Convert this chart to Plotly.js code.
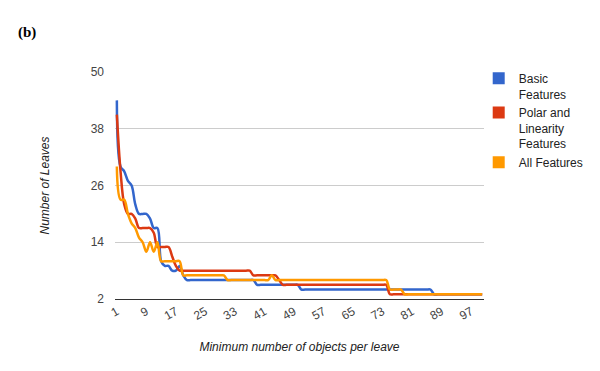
<!DOCTYPE html>
<html>
<head>
<meta charset="utf-8">
<script src="https://cdn.plot.ly/plotly-3.0.1.min.js"></script>
<style>html,body{margin:0;padding:0;background:#fff;}#chart{width:600px;height:371px;}</style>
</head>
<body>
<div id="chart"></div>
<script>
// Minimum number of objects per leave (x categories 1..100)
const minObjects = [
  1,2,3,4,5,6,7,8,9,10,11,12,13,14,15,16,17,18,19,20,
  21,22,23,24,25,26,27,28,29,30,31,32,33,34,35,36,37,38,39,40,
  41,42,43,44,45,46,47,48,49,50,51,52,53,54,55,56,57,58,59,60,
  61,62,63,64,65,66,67,68,69,70,71,72,73,74,75,76,77,78,79,80,
  81,82,83,84,85,86,87,88,89,90,91,92,93,94,95,96,97,98,99,100
];
const basicFeatures = [
  44,30,29,27,26,22,20,20,20,19,17,17,10,9,9,8,8,9,7,6,
  6,6,6,6,6,6,6,6,6,6,6,6,6,6,6,6,6,6,5,5,
  5,5,5,5,5,5,5,5,5,5,4,4,4,4,4,4,4,4,4,4,
  4,4,4,4,4,4,4,4,4,4,4,4,4,4,4,4,4,4,4,4,
  4,4,4,4,4,4,3,3,3,3,3,3,3,3,3,3,3,3,3,3
];
const polarLinearity = [
  41,29,22,20,20,19,17,17,17,17,16,13,13,13,13,11,9,8,8,8,
  8,8,8,8,8,8,8,8,8,8,8,8,8,8,8,8,8,7,7,7,
  7,7,7,7,6,5,5,5,5,5,5,5,5,5,5,5,5,5,5,5,
  5,5,5,5,5,5,5,5,5,5,5,5,5,5,3,3,3,3,3,3,
  3,3,3,3,3,3,3,3,3,3,3,3,3,3,3,3,3,3,3,3
];
const allFeatures = [
  30,23,23,20,18,17,15,14,12,14,12,14,10,10,10,10,10,10,7,7,
  7,7,7,7,7,7,7,7,7,7,6,6,6,6,6,6,6,6,6,6,
  6,6,7,6,6,6,6,6,6,6,6,6,6,6,6,6,6,6,6,6,
  6,6,6,6,6,6,6,6,6,6,6,6,6,6,4,4,4,4,3,3,
  3,3,3,3,3,3,3,3,3,3,3,3,3,3,3,3,3,3,3,3
];
const xTickVals = [1,9,17,25,33,41,49,57,65,73,81,89,97];
const xTickText = ['1','9','17','25','33','41','49','57','65','73','81','89','97'];
const yTickVals = [2,14,26,38,50];
const seriesNames = ['Basic<br>Features','Polar and<br>Linearity<br>Features','All Features'];
const seriesColors = ['#3366cc','#dc3912','#ff9900'];

const seriesData = [basicFeatures, polarLinearity, allFeatures];
const traces = [];
seriesData.forEach((ys, i) => {
  traces.push({
    x: minObjects, y: ys, type: 'scatter', mode: 'lines',
    line: {color: seriesColors[i], width: 2.5, shape: 'spline', smoothing: 1},
    showlegend: false, hoverinfo: 'x+y'
  });
});
seriesData.forEach((ys, i) => {
  traces.push({
    x: [null], y: [null], type: 'scatter', mode: 'markers',
    name: seriesNames[i],
    marker: {symbol: 'square', size: 12, color: seriesColors[i]}
  });
});

const layout = {
  width: 600, height: 371,
  margin: {l: 115, r: 115, t: 72, b: 72},
  paper_bgcolor: '#fff', plot_bgcolor: '#fff',
  font: {family: 'Liberation Sans, Arial, sans-serif', size: 12, color: '#444'},
  showlegend: true,
  legend: {
    x: 0.983, y: 1.035, xanchor: 'left', yanchor: 'top',
    valign: 'top', bgcolor: 'rgba(0,0,0,0)', tracegroupgap: 0,
    font: {family: 'Liberation Sans, Arial, sans-serif', size: 12, color: '#222'}
  },
  xaxis: {
    range: [0.5, 100.5], tickmode: 'array', tickvals: xTickVals, ticktext: xTickText,
    tickangle: -30, showgrid: false, zeroline: false,
    showline: true, linecolor: '#333', linewidth: 1, ticks: '',
    tickfont: {size: 12, color: '#444'},
    title: {text: 'Minimum number of objects per leave', standoff: 20,
            font: {size: 12, color: '#222', family: 'Liberation Sans, Arial, sans-serif', style: 'italic'}}
  },
  yaxis: {
    range: [2, 50], tickmode: 'array', tickvals: yTickVals,
    showgrid: true, gridcolor: '#cccccc', gridwidth: 1, zeroline: false, showline: false, ticks: '',
    ticklabelstandoff: 10,
    tickfont: {size: 12, color: '#444'},
    title: {text: 'Number of Leaves', standoff: 38,
            font: {size: 12, color: '#222', family: 'Liberation Sans, Arial, sans-serif', style: 'italic'}}
  },
  annotations: [{
    text: '(b)', xref: 'paper', yref: 'paper', x: -0.238, y: 1.172,
    xanchor: 'center', yanchor: 'middle', showarrow: false,
    font: {family: 'Liberation Serif, Times New Roman, serif', size: 15, color: '#000', weight: 'bold'}
  }]
};

Plotly.newPlot('chart', traces, layout, {displayModeBar: false, staticPlot: true});
</script>
</body>
</html>
